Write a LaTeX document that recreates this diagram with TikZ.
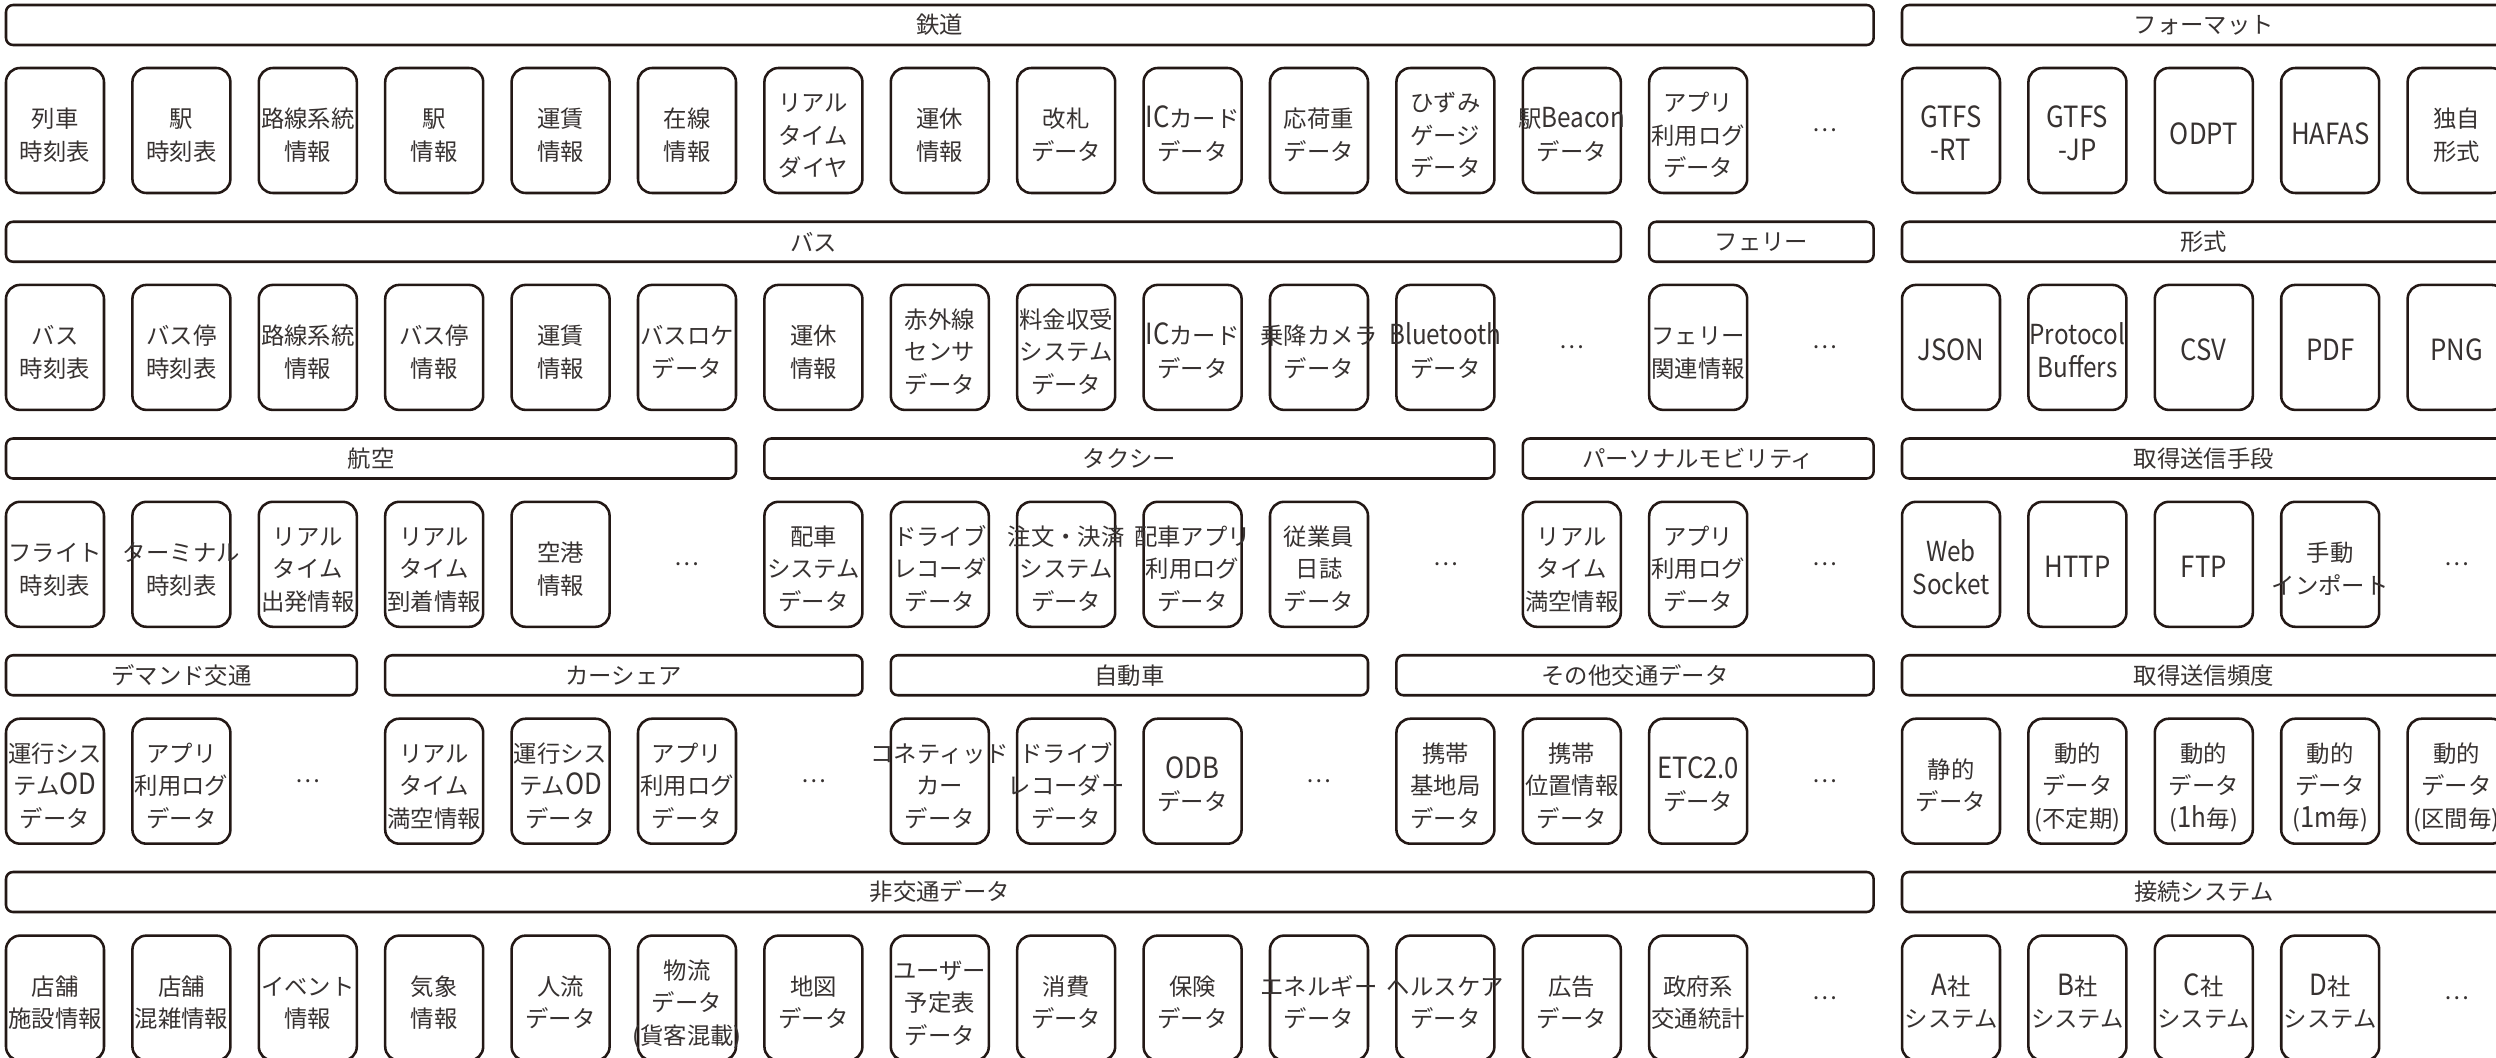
\documentclass[tikz,border=0pt]{standalone}
\usepackage{fontspec}
\setmainfont{Noto Sans CJK JP}
\newfontfamily\capsfont{Noto Sans CJK JP}[Scale=1.25,FakeStretch=0.88]
\newfontfamily\lowfont{Noto Sans CJK JP}[Scale=1.18,FakeStretch=0.88]
\newcommand\Lw[1]{{\capsfont #1}}
\newcommand\Lm[1]{{\lowfont #1}}
\definecolor{ln}{RGB}{35,24,21}
\definecolor{tx}{RGB}{55,50,49}
\tikzset{
  cell/.style={draw=ln, line width=1.45pt, rounded corners=0.28cm,
    minimum width=1.96cm, minimum height=2.5cm, inner sep=0pt, text=tx,
    font=\fontsize{13.3pt}{18.5pt}\selectfont},
  head/.style={draw=ln, line width=1.45pt, rounded corners=0.14cm,
    minimum height=0.8cm, inner sep=0pt, text=tx,
    font=\fontsize{13.3pt}{16.1pt}\selectfont},
  dotsnode/.style={inner sep=0pt, text=tx, font=\fontsize{13.3pt}{16.1pt}\selectfont}
}
\newcommand\mkcell[3]{\node[cell] (r#1c#2) at ({55+126.4*#2},{130.5+216.9*#1})
  {\makebox[0pt]{\raisebox{-4pt}[\height][\depth]{\begin{tabular}{@{}c@{}}#3\end{tabular}}}};}
\newcommand\mkdots[2]{\node[dotsnode] (d#1c#2) at ({55+126.4*#2},{130.5+216.9*#1}) {…};}
\newcommand\mkhead[4]{\node[head, minimum width={(98+126.4*(#3-#2))*0.02cm}] (h#1c#2)
  at ({(110+126.4*(#2+#3))/2},{25+216.75*#1}) {#4};}
\begin{document}
\begin{tikzpicture}[x=0.02cm, y=-0.02cm]
\useasboundingbox (0,0) rectangle (2496,1058);
\clip (0,0) rectangle (2496,1058);
\fill[white] (0,0) rectangle (2496,1058);
% ---------- row 0
\mkhead{0}{0}{14}{鉄道}
\mkhead{0}{15}{19}{フォーマット}
\mkcell{0}{0}{列車\\時刻表}
\mkcell{0}{1}{駅\\時刻表}
\mkcell{0}{2}{路線系統\\情報}
\mkcell{0}{3}{駅\\情報}
\mkcell{0}{4}{運賃\\情報}
\mkcell{0}{5}{在線\\情報}
\mkcell{0}{6}{リアル\\タイム\\ダイヤ}
\mkcell{0}{7}{運休\\情報}
\mkcell{0}{8}{改札\\データ}
\mkcell{0}{9}{\Lw{IC}カード\\データ}
\mkcell{0}{10}{応荷重\\データ}
\mkcell{0}{11}{ひずみ\\ゲージ\\データ}
\mkcell{0}{12}{駅\Lm{Beacon}\\データ}
\mkcell{0}{13}{アプリ\\利用ログ\\データ}
\mkdots{0}{14}
\mkcell{0}{15}{\Lw{GTFS}\\\Lw{-RT}}
\mkcell{0}{16}{\Lw{GTFS}\\\Lw{-JP}}
\mkcell{0}{17}{\Lw{ODPT}}
\mkcell{0}{18}{\Lw{HAFAS}}
\mkcell{0}{19}{独自\\形式}
% ---------- row 1
\mkhead{1}{0}{12}{バス}
\mkhead{1}{13}{14}{フェリー}
\mkhead{1}{15}{19}{形式}
\mkcell{1}{0}{バス\\時刻表}
\mkcell{1}{1}{バス停\\時刻表}
\mkcell{1}{2}{路線系統\\情報}
\mkcell{1}{3}{バス停\\情報}
\mkcell{1}{4}{運賃\\情報}
\mkcell{1}{5}{バスロケ\\データ}
\mkcell{1}{6}{運休\\情報}
\mkcell{1}{7}{赤外線\\センサ\\データ}
\mkcell{1}{8}{料金収受\\システム\\データ}
\mkcell{1}{9}{\Lw{IC}カード\\データ}
\mkcell{1}{10}{乗降カメラ\\データ}
\mkcell{1}{11}{\Lm{Bluetooth}\\データ}
\mkdots{1}{12}
\mkcell{1}{13}{フェリー\\関連情報}
\mkdots{1}{14}
\mkcell{1}{15}{\Lw{JSON}}
\mkcell{1}{16}{\Lm{Protocol}\\\Lm{Buffers}}
\mkcell{1}{17}{\Lw{CSV}}
\mkcell{1}{18}{\Lw{PDF}}
\mkcell{1}{19}{\Lw{PNG}}
% ---------- row 2
\mkhead{2}{0}{5}{航空}
\mkhead{2}{6}{11}{タクシー}
\mkhead{2}{12}{14}{パーソナルモビリティ}
\mkhead{2}{15}{19}{取得送信手段}
\mkcell{2}{0}{フライト\\時刻表}
\mkcell{2}{1}{ターミナル\\時刻表}
\mkcell{2}{2}{リアル\\タイム\\出発情報}
\mkcell{2}{3}{リアル\\タイム\\到着情報}
\mkcell{2}{4}{空港\\情報}
\mkdots{2}{5}
\mkcell{2}{6}{配車\\システム\\データ}
\mkcell{2}{7}{ドライブ\\レコーダ\\データ}
\mkcell{2}{8}{注文・決済\\システム\\データ}
\mkcell{2}{9}{配車アプリ\\利用ログ\\データ}
\mkcell{2}{10}{従業員\\日誌\\データ}
\mkdots{2}{11}
\mkcell{2}{12}{リアル\\タイム\\満空情報}
\mkcell{2}{13}{アプリ\\利用ログ\\データ}
\mkdots{2}{14}
\mkcell{2}{15}{\Lm{Web}\\\Lm{Socket}}
\mkcell{2}{16}{\Lw{HTTP}}
\mkcell{2}{17}{\Lw{FTP}}
\mkcell{2}{18}{手動\\インポート}
\mkdots{2}{19}
% ---------- row 3
\mkhead{3}{0}{2}{デマンド交通}
\mkhead{3}{3}{6}{カーシェア}
\mkhead{3}{7}{10}{自動車}
\mkhead{3}{11}{14}{その他交通データ}
\mkhead{3}{15}{19}{取得送信頻度}
\mkcell{3}{0}{運行シス\\テム\Lw{OD}\\データ}
\mkcell{3}{1}{アプリ\\利用ログ\\データ}
\mkdots{3}{2}
\mkcell{3}{3}{リアル\\タイム\\満空情報}
\mkcell{3}{4}{運行シス\\テム\Lw{OD}\\データ}
\mkcell{3}{5}{アプリ\\利用ログ\\データ}
\mkdots{3}{6}
\mkcell{3}{7}{コネティッド\\カー\\データ}
\mkcell{3}{8}{ドライブ\\レコーダー\\データ}
\mkcell{3}{9}{\Lw{ODB}\\データ}
\mkdots{3}{10}
\mkcell{3}{11}{携帯\\基地局\\データ}
\mkcell{3}{12}{携帯\\位置情報\\データ}
\mkcell{3}{13}{\Lw{ETC2.0}\\データ}
\mkdots{3}{14}
\mkcell{3}{15}{静的\\データ}
\mkcell{3}{16}{動的\\データ\\(不定期)}
\mkcell{3}{17}{動的\\データ\\(\Lw{1}\Lm{h}毎)}
\mkcell{3}{18}{動的\\データ\\(\Lw{1}\Lm{m}毎)}
\mkcell{3}{19}{動的\\データ\\(区間毎)}
% ---------- row 4
\mkhead{4}{0}{14}{非交通データ}
\mkhead{4}{15}{19}{接続システム}
\mkcell{4}{0}{店舗\\施設情報}
\mkcell{4}{1}{店舗\\混雑情報}
\mkcell{4}{2}{イベント\\情報}
\mkcell{4}{3}{気象\\情報}
\mkcell{4}{4}{人流\\データ}
\mkcell{4}{5}{物流\\データ\\(貨客混載)}
\mkcell{4}{6}{地図\\データ}
\mkcell{4}{7}{ユーザー\\予定表\\データ}
\mkcell{4}{8}{消費\\データ}
\mkcell{4}{9}{保険\\データ}
\mkcell{4}{10}{エネルギー\\データ}
\mkcell{4}{11}{ヘルスケア\\データ}
\mkcell{4}{12}{広告\\データ}
\mkcell{4}{13}{政府系\\交通統計}
\mkdots{4}{14}
\mkcell{4}{15}{\Lw{A}社\\システム}
\mkcell{4}{16}{\Lw{B}社\\システム}
\mkcell{4}{17}{\Lw{C}社\\システム}
\mkcell{4}{18}{\Lw{D}社\\システム}
\mkdots{4}{19}
\end{tikzpicture}
\end{document}
